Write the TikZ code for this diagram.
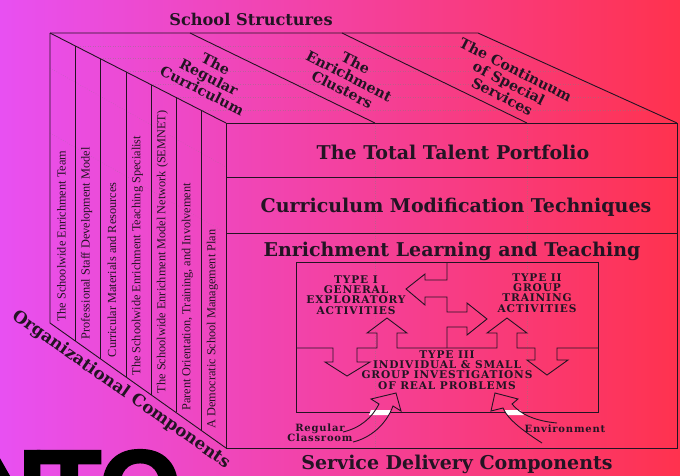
\documentclass[tikz,border=0pt]{standalone}
\usepackage{fontspec}
\setmainfont{Liberation Serif}
\newfontfamily\titlefont{DejaVu Serif}
\newfontfamily\capsfont{DejaVu Serif}[LetterSpace=8]
\newfontfamily\bigfont{Liberation Sans}[BoldFeatures={FakeBold=2.5}]
\definecolor{leftpink}{RGB}{232,80,242}
\definecolor{rightred}{RGB}{255,50,78}
\definecolor{ink}{RGB}{35,20,35}

\begin{document}
\begin{tikzpicture}[x=1pt, y=-1pt,
    edge/.style={draw=ink, line width=0.9pt},
    guide/.style={draw=gray, dotted, opacity=0.45, line width=0.5pt},
    title/.style={inner sep=0pt, text=ink, font=\titlefont\bfseries\fontsize{19}{21}\selectfont},
    toplabel/.style={inner sep=0pt, text=ink, align=center, rotate=-27, font=\titlefont\bfseries\fontsize{14.2}{15}\selectfont},
    slat/.style={inner sep=0pt, text=ink, rotate=90, anchor=west, font=\fontsize{12.3}{13}\selectfont},
    typelabel/.style={inner sep=0pt, text=ink, align=center, font=\capsfont\bfseries\fontsize{10.6}{10.3}\selectfont},
    smalllabel/.style={inner sep=0pt, text=ink, align=center, font=\capsfont\bfseries\fontsize{10}{10.5}\selectfont}]

    % background
    \shade[left color=leftpink, right color=rightred] (0,0) rectangle (680,475);
    \useasboundingbox (0,0) rectangle (680,475);

    % faint guide lines of the drawing
    \begin{scope}
        \clip (50,33) -- (478,33) -- (677,123) -- (226,123) -- cycle;
        \draw[guide] (40,46) -- (690,46);
        \draw[guide] (40,58) -- (690,58);
        \draw[guide] (40,71) -- (690,71);
        \draw[guide] (40,84) -- (690,84);
        \draw[guide] (40,97) -- (690,97);
        \draw[guide] (40,110) -- (690,110);
    \end{scope}
    \draw[guide] (375,123) -- (375,448);
    \draw[guide] (527,123) -- (527,448);
    \draw[guide] (50,68) -- (226,167);
    \draw[guide] (50,133) -- (226,233);

    % the cube
    \draw[edge] (50,33) -- (478,33) -- (677,123);
    \draw[edge] (50,33) -- (226,123);
    \draw[edge] (190,33) -- (375,123);
    \draw[edge] (342,33) -- (527,123);
    \draw[edge] (226,123) rectangle (677,448);
    \draw[edge] (226,177) -- (677,177);
    \draw[edge] (226,233) -- (677,233);
    \draw[edge] (50,33) -- (50,323) -- (226,448);
    \foreach \x in {75,100,126,151,176,201}
        \draw[edge] (\x,{33+(\x-50)*0.5114}) -- (\x,{323+(\x-50)*0.7102});

    % organizational components
    \node[slat] (team) at (61.5,322) {The Schoolwide Enrichment Team};
    \node[slat] (staff) at (86.5,339.7) {Professional Staff Development Model};
    \node[slat] (materials) at (112,357.3) {Curricular Materials and Resources};
    \node[slat] (specialist) at (137.5,375.7) {The Schoolwide Enrichment Teaching Specialist};
    \node[slat] (semnet) at (162.5,393.3) {The Schoolwide Enrichment Model Network (SEMNET)};
    \node[slat] (parent) at (187.5,411) {Parent Orientation, Training, and Involvement};
    \node[slat] (plan) at (212.5,428.6) {A Democratic School Management Plan};

    % school structures
    \node[toplabel] (regular) at (209,77) {The\\Regular\\Curriculum};
    \node[toplabel] (clusters) at (349,76) {The\\Enrichment\\Clusters};
    \node[toplabel] (continuum) at (509,83) {The Continuum\\of Special\\Services};

    % titles
    \node[title, font=\titlefont\bfseries\fontsize{16.2}{18}\selectfont] (structures) at (251,19) {School Structures};
    \node[title] (portfolio) at (453,152) {The Total Talent Portfolio};
    \node[title] (modification) at (456,207) {Curriculum Modification Techniques};
    \node[title] (learning) at (452,251) {Enrichment Learning and Teaching};
    \node[title] (delivery) at (457,464) {Service Delivery Components};
    \node[title, font=\titlefont\bfseries\fontsize{16.7}{18}\selectfont, rotate=-35] (organizational) at (121,390) {Organizational Components};

    % enrichment triad
    \draw[edge] (296,262) rectangle (598,412);
    \draw[edge] (447,262) -- (447,280) -- (425,280) -- (425,274) -- (406,289) -- (425,305) -- (425,297)
        -- (447,297) -- (447,312) -- (467,312) -- (467,303) -- (487,319) -- (467,335) -- (467,327)
        -- (447,327) -- (447,348);
    \draw[edge] (296,348) -- (333,348) -- (333,362) -- (325,362) -- (347,376) -- (370,362) -- (357,362)
        -- (357,348) -- (377,348) -- (377,333) -- (367,333) -- (387,318) -- (407,333) -- (397,333)
        -- (397,348) -- (497,348) -- (497,333) -- (487,333) -- (507,318) -- (527,333) -- (517,333)
        -- (517,348) -- (535,348) -- (535,360) -- (527,360) -- (547,375) -- (568,360) -- (557,360)
        -- (557,348) -- (598,348);
    \node[typelabel] (typeone) at (356,295) {TYPE I\\GENERAL\\EXPLORATORY\\ACTIVITIES};
    \node[typelabel] (typetwo) at (537,293) {TYPE II\\GROUP\\TRAINING\\ACTIVITIES};
    \node[typelabel] (typethree) at (447,370) {TYPE III\\INDIVIDUAL \& SMALL\\GROUP INVESTIGATIONS\\OF REAL PROBLEMS};

    % curved arrows into the triad
    \fill[white] (371,410) -- (391,410) -- (389,415) -- (369,415) -- cycle;
    \fill[white] (504,410) -- (520,410) -- (524,415) -- (507,415) -- cycle;
    \draw[edge] (343,432) .. controls (360,428) and (372,418) .. (379,404) -- (371,399) -- (396,393)
        -- (401,411) -- (393,406) .. controls (386,425) and (370,438) .. (353,442);
    \draw[edge] (542,443) .. controls (525,432) and (508,420) .. (503,408) -- (491,411) -- (495,393)
        -- (518,399) -- (512,404) .. controls (520,414) and (535,421) .. (557,423);
    \node[smalllabel] (classroom) at (320,433) {Regular\\Classroom};
    \node[smalllabel] (environment) at (565,429) {Environment};

    % big lettering at the lower edge
    \begin{scope}
        \clip (0,0) rectangle (680,475);
        \node[inner sep=0pt, anchor=north west, font=\bigfont\bfseries\fontsize{105}{105}\selectfont] (nto) at (-30,450) {N\kern-9pt TO};
    \end{scope}
\end{tikzpicture}
\end{document}
